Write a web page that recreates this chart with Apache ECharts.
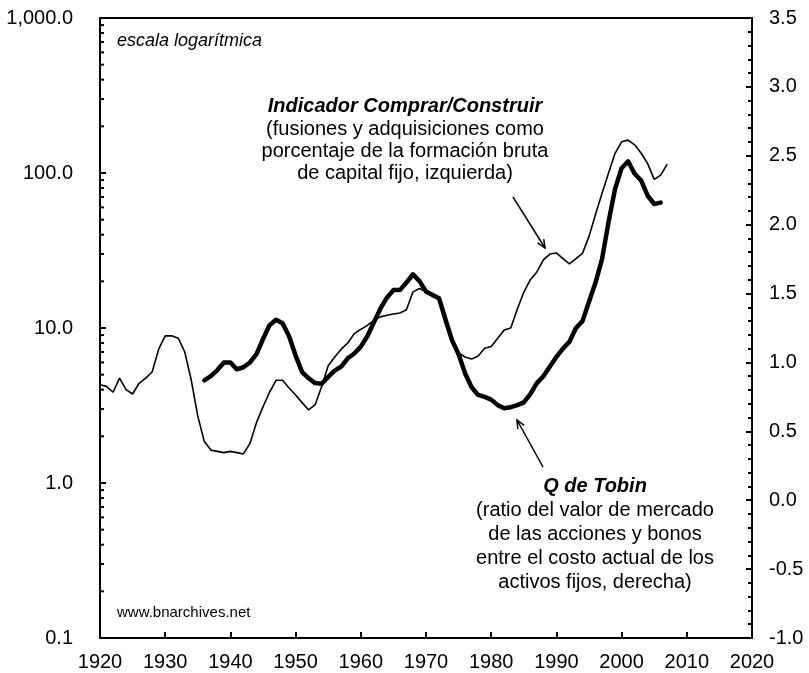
<!DOCTYPE html>
<html>
<head>
<meta charset="utf-8">
<script src="https://cdn.jsdelivr.net/npm/echarts@6/dist/echarts.min.js"></script>
<style>html,body{margin:0;padding:0;background:#fff}#chart{width:809px;height:673px}</style>
</head>
<body>
<div id="chart"></div>
<script>
var chart = echarts.init(document.getElementById('chart'));
var FONT = '"Liberation Sans", Arial, sans-serif';

// Indicador Comprar/Construir, anual desde 1920 (eje izquierdo, logaritmico)
var bbInicio = 1920;
var bbValores = [
  4.3, 4.2, 3.85, 4.75, 4.0, 3.75, 4.4, 4.75, 5.2, 7.3,
  8.9, 8.9, 8.6, 7.0, 4.6, 2.7, 1.85, 1.63, 1.6, 1.57,
  1.6, 1.57, 1.54, 1.8, 2.45, 3.1, 3.85, 4.6, 4.6, 4.1,
  3.7, 3.3, 2.96, 3.2, 4.2, 5.7, 6.5, 7.3, 8.0, 9.2,
  9.8, 10.4, 11.2, 11.8, 12.1, 12.3, 12.5, 13.1, 17.1, 18.0,
  17.1, 16.2, 15.3, 10.6, 8.3, 6.9, 6.5, 6.3, 6.6, 7.4,
  7.6, 8.6, 9.7, 10.0, 13.2, 17.0, 20.5, 23.0, 27.5, 30.0,
  30.5, 28.0, 25.9, 28.0, 30.3, 39, 54, 74, 100, 134,
  159, 163, 152, 134, 115, 91, 97, 114
];

// Q de Tobin, anual desde 1936 (eje derecho)
var qInicio = 1936;
var qValores = [
  0.87, 0.90, 0.945, 1.0,
  1.0, 0.95, 0.965, 1.0, 1.06, 1.17, 1.27, 1.31, 1.285, 1.19,
  1.05, 0.93, 0.885, 0.85, 0.845, 0.895, 0.94, 0.97, 1.03, 1.065,
  1.115, 1.19, 1.29, 1.39, 1.47, 1.525, 1.525, 1.58, 1.64, 1.59,
  1.515, 1.49, 1.466, 1.31, 1.16, 1.06, 0.92, 0.82, 0.764, 0.75,
  0.73, 0.69, 0.668, 0.675, 0.69, 0.71, 0.77, 0.85, 0.90, 0.97,
  1.04, 1.10, 1.15, 1.25, 1.30, 1.44, 1.58, 1.75, 2.02, 2.26,
  2.41, 2.46, 2.37, 2.32, 2.21, 2.15, 2.16
];

// marcas menores del eje log (2..9 en cada decada)
var marcasLog = [];
[0.1, 1, 10, 100].forEach(function (d) {
  for (var k = 2; k <= 9; k++) marcasLog.push(d * k);
});

function pares(inicio, vals) {
  return vals.map(function (v, i) { return [inicio + i, v]; });
}

// flecha: linea + punta abierta
function flecha(x1, y1, x2, y2) {
  var dx = x2 - x1, dy = y2 - y1, L = Math.sqrt(dx * dx + dy * dy);
  var ux = dx / L, uy = dy / L, h = 9, a = 0.42;
  var c = Math.cos(a), s = Math.sin(a);
  var p1 = [x2 - h * (ux * c - uy * s), y2 - h * (uy * c + ux * s)];
  var p2 = [x2 - h * (ux * c + uy * s), y2 - h * (uy * c - ux * s)];
  return [
    { type: 'line', shape: { x1: x1, y1: y1, x2: x2, y2: y2 }, style: { stroke: '#000', lineWidth: 1.5 } },
    { type: 'polyline', shape: { points: [p1, [x2, y2], p2] }, style: { stroke: '#000', lineWidth: 1.5, fill: null } }
  ];
}

function texto(t, x, y, size, estilo, peso, alinear) {
  return {
    type: 'text', x: x, y: y,
    style: {
      text: t, fill: '#000', align: alinear || 'center', verticalAlign: 'middle',
      font: (estilo || 'normal') + ' ' + (peso || 'normal') + ' ' + size + 'px ' + FONT
    }
  };
}

var graficos = [
  texto('escala logarítmica', 117, 41, 18, 'italic', 'normal', 'left'),
  texto('www.bnarchives.net', 117, 613, 15, 'normal', 'normal', 'left'),
  texto('Indicador Comprar/Construir', 405, 106, 20, 'italic', 'bold'),
  texto('(fusiones y adquisiciones como', 405, 129, 20),
  texto('porcentaje de la formación bruta', 405, 151, 20),
  texto('de capital fijo, izquierda)', 405, 173, 20),
  texto('Q de Tobin', 595, 486, 20, 'italic', 'bold'),
  texto('(ratio del valor de mercado', 595, 510, 20),
  texto('de las acciones y bonos', 595, 534, 20),
  texto('entre el costo actual de los', 595, 558, 20),
  texto('activos fijos, derecha)', 595, 582, 20)
].concat(flecha(513, 197, 545, 248)).concat(flecha(543, 467, 517, 420));

var etiqueta = { color: '#000', fontSize: 20, fontFamily: FONT };
var linea = { color: '#000', width: 2 };

var option = {
  backgroundColor: '#fff',
  animation: false,
  grid: {
    left: 100, right: 57, top: 18, bottom: 35,
    containLabel: false, outerBoundsMode: 'none'
  },
  xAxis: [
    {
      type: 'value', min: 1920, max: 2020, interval: 10, position: 'bottom',
      axisLine: { show: true, onZero: false, lineStyle: linea },
      axisTick: { show: true, inside: true, length: 6, lineStyle: linea },
      axisLabel: Object.assign({ margin: 14, formatter: function (v) { return String(v); } }, etiqueta),
      splitLine: { show: false }
    },
    {
      // borde superior del marco
      type: 'value', min: 1920, max: 2020, position: 'top',
      axisLine: { show: true, onZero: false, lineStyle: linea },
      axisTick: { show: false }, axisLabel: { show: false }, splitLine: { show: false }
    }
  ],
  yAxis: [
    {
      type: 'log', logBase: 10, min: 0.1, max: 1000, position: 'left',
      axisLine: { show: true, onZero: false, lineStyle: linea },
      axisTick: { show: true, inside: true, length: 6, lineStyle: linea },
      axisLabel: Object.assign({
        margin: 27,
        formatter: function (v) {
          return Number(v).toLocaleString('en-US', { minimumFractionDigits: 1, maximumFractionDigits: 1 });
        }
      }, etiqueta),
      splitLine: { show: false }
    },
    {
      type: 'value', min: -1, max: 3.5, interval: 0.5, position: 'right',
      axisLine: { show: true, onZero: false, lineStyle: linea },
      axisTick: { show: true, inside: true, length: 6, lineStyle: linea },
      minorTick: { show: true, splitNumber: 5, length: 4, lineStyle: linea },
      axisLabel: Object.assign({
        margin: 17,
        formatter: function (v) { return v.toFixed(1); }
      }, etiqueta),
      splitLine: { show: false }
    }
  ],
  series: [
    {
      name: 'Indicador Comprar/Construir', type: 'line', yAxisIndex: 0,
      data: pares(bbInicio, bbValores),
      showSymbol: false, symbol: 'none',
      lineStyle: { color: '#000', width: 1.6 }
    },
    {
      name: 'Q de Tobin', type: 'line', yAxisIndex: 1,
      data: pares(qInicio, qValores),
      showSymbol: false, symbol: 'none',
      lineStyle: { color: '#000', width: 4.5, join: 'round', cap: 'round' }
    }
  ],
  graphic: graficos
};
chart.setOption(option);

// marcas menores del eje logaritmico, situadas con la escala del eje
var xEje = chart.convertToPixel({ xAxisIndex: 0 }, 1920);
var marcas = marcasLog.map(function (v) {
  var y = chart.convertToPixel({ yAxisIndex: 0 }, v);
  return { type: 'line', shape: { x1: xEje, y1: y, x2: xEje + 4, y2: y }, style: { stroke: '#000', lineWidth: 2 } };
});
chart.setOption({ graphic: graficos.concat(marcas) });
</script>
</body>
</html>
